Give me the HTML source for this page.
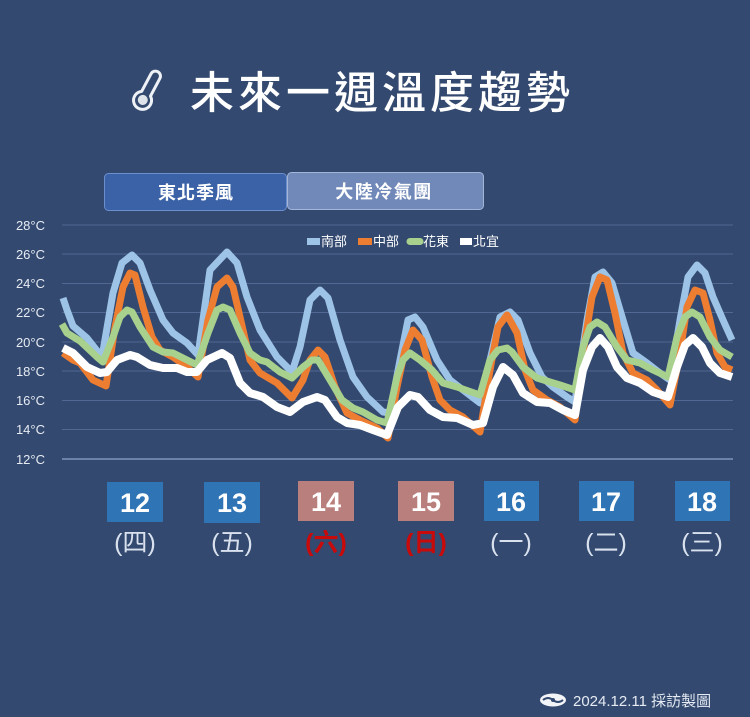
<!DOCTYPE html>
<html><head><meta charset="utf-8">
<style>
html,body{margin:0;padding:0;background:#33496f;}
svg{display:block;}
</style></head>
<body>
<svg width="750" height="717" viewBox="0 0 750 717" xmlns="http://www.w3.org/2000/svg">
<rect width="750" height="717" fill="#33496f"/>
<!-- thermometer icon -->
<g transform="rotate(28 147 92)">
<path d="M142 74 a5 5 0 0 1 10 0 v20 a9 9 0 1 1 -10 0 z" fill="none" stroke="#eef1f6" stroke-width="3" stroke-linejoin="round"/>
<circle cx="147" cy="101" r="5" fill="#dfe3ea"/>
</g>
<text x="190" y="108" font-family="'Liberation Sans','Noto Sans CJK TC',sans-serif" font-size="44" font-weight="500" fill="#ffffff" letter-spacing="4">未來一週溫度趨勢</text>
<!-- buttons -->
<rect x="104.5" y="173.5" width="182" height="37" rx="4" fill="#3b62a6" stroke="#6a8fcc" stroke-width="1"/>
<rect x="287.5" y="172.5" width="196" height="37" rx="4" fill="#7089b9" stroke="#a3b6d8" stroke-width="1"/>
<text x="196" y="199" text-anchor="middle" font-family="'Liberation Sans','Noto Sans CJK TC',sans-serif" font-size="18" font-weight="700" fill="#ffffff" letter-spacing="1">東北季風</text>
<text x="384" y="198" text-anchor="middle" font-family="'Liberation Sans','Noto Sans CJK TC',sans-serif" font-size="18" font-weight="700" fill="#ffffff" letter-spacing="1.5">大陸冷氣團</text>
<!-- gridlines -->
<g stroke="#516892" stroke-width="1">
<line x1="62" y1="225" x2="733" y2="225"/>
<line x1="62" y1="254" x2="733" y2="254"/>
<line x1="62" y1="283.5" x2="733" y2="283.5"/>
<line x1="62" y1="312.5" x2="733" y2="312.5"/>
<line x1="62" y1="342" x2="733" y2="342"/>
<line x1="62" y1="371" x2="733" y2="371"/>
<line x1="62" y1="400.5" x2="733" y2="400.5"/>
<line x1="62" y1="429.5" x2="733" y2="429.5"/>
</g>
<line x1="62" y1="459" x2="733" y2="459" stroke="#8095b8" stroke-width="1.5"/>
<!-- y labels -->
<g font-family="'Liberation Sans','Noto Sans CJK TC',sans-serif" font-size="13" fill="#e6ebf3" text-anchor="end">
<text x="45" y="230">28°C</text>
<text x="45" y="259">26°C</text>
<text x="45" y="288">24°C</text>
<text x="45" y="317">22°C</text>
<text x="45" y="347">20°C</text>
<text x="45" y="376">18°C</text>
<text x="45" y="405">16°C</text>
<text x="45" y="434">14°C</text>
<text x="45" y="464">12°C</text>
</g>
<!-- legend -->
<g font-family="'Liberation Sans','Noto Sans CJK TC',sans-serif" font-size="13" fill="#ffffff">
<rect x="307" y="238" width="13" height="7" fill="#9dc3e6"/><text x="321" y="246">南部</text>
<rect x="358" y="238" width="14" height="7" fill="#ed7d31"/><text x="373" y="246">中部</text>
<line x1="410" y1="241.5" x2="420" y2="241.5" stroke="#a9d18e" stroke-width="7" stroke-linecap="round"/><text x="423" y="246">花東</text>
<rect x="460" y="238" width="12" height="7" fill="#ffffff"/><text x="473" y="246">北宜</text>
</g>
<!-- series -->
<g fill="none" stroke-linejoin="round" stroke-linecap="butt" stroke-width="7">
<polyline stroke="#9dc3e6" points="63,298 67,310 73,326 87,338 102,357 113,293 122,263 132,255 140,263 150,290 163,320 173,333 187,343 198,355 210,270 227,252 237,263 247,297 260,330 277,357 292,372 300,347 310,300 320,290 328,298 340,340 353,377 367,397 383,412 390,413 400,360 408,320 415,317 423,327 437,360 450,380 463,390 480,403 490,360 500,317 510,312 518,320 530,353 542,377 553,387 567,397 575,402 587,320 595,277 603,272 612,283 623,320 633,353 647,363 660,373 670,380 680,320 688,277 697,265 705,273 713,297 723,320 732,340"/>
<polyline stroke="#ed7d31" points="63,353 73,360 80,363 93,380 106,386 115,327 123,287 130,273 135,275 143,307 152,337 160,350 173,357 187,367 198,377 208,320 217,287 227,278 233,287 240,317 250,360 260,373 277,383 292,398 303,380 310,360 318,350 325,357 335,387 347,413 360,420 377,428 388,438 397,387 405,350 413,330 422,340 432,377 440,400 450,410 463,417 480,432 490,370 498,327 507,315 517,333 525,370 533,390 547,400 560,407 575,420 583,353 592,297 600,277 607,280 615,313 623,353 633,373 647,380 657,390 670,405 680,353 687,307 695,290 703,293 710,320 717,353 725,367 732,370"/>
<polyline stroke="#a9d18e" points="62,324 67,333 80,341 97,357 103,362 113,337 120,317 127,310 132,312 140,327 153,347 163,352 173,353 187,360 197,365 208,333 217,310 223,307 230,310 240,333 250,353 260,360 267,362 280,372 292,378 303,367 312,360 318,360 330,380 342,400 353,408 363,412 377,420 387,423 397,377 403,360 410,353 420,360 432,370 443,383 457,387 480,395 490,360 498,350 507,348 512,352 523,367 537,378 550,382 560,385 575,390 583,347 590,327 597,322 605,327 617,347 627,360 640,363 653,370 668,377 677,337 685,317 692,312 700,317 710,337 720,350 732,357"/>
<polyline stroke="#ffffff" stroke-width="8" points="63,348 73,353 87,367 100,373 107,372 117,360 130,355 137,357 150,365 163,368 177,368 187,372 197,372 207,360 222,353 230,358 240,383 250,393 263,397 277,407 290,412 303,402 317,397 325,400 337,417 347,423 360,425 373,430 387,435 398,407 410,395 418,397 430,410 443,417 457,418 473,425 483,423 493,387 503,367 513,375 523,393 537,402 550,403 563,410 575,415 583,370 592,347 600,338 608,347 617,367 627,378 640,383 653,392 668,397 677,367 685,345 693,338 702,347 710,363 720,373 732,377"/>
</g>
<!-- day boxes -->
<g>
<rect x="107" y="482" width="56" height="40" fill="#2f74b5"/>
<rect x="204" y="482" width="56" height="41" fill="#2f74b5"/>
<rect x="298" y="481" width="56" height="40" fill="#b97f7d"/>
<rect x="398" y="481" width="56" height="40" fill="#b97f7d"/>
<rect x="484" y="481" width="55" height="40" fill="#2f74b5"/>
<rect x="579" y="481" width="55" height="40" fill="#2f74b5"/>
<rect x="675" y="481" width="55" height="40" fill="#2f74b5"/>
</g>
<g font-family="'Liberation Sans','Noto Sans CJK TC',sans-serif" font-size="27" font-weight="700" fill="#ffffff" text-anchor="middle">
<text x="135" y="512">12</text>
<text x="232" y="512">13</text>
<text x="326" y="511">14</text>
<text x="426" y="511">15</text>
<text x="511" y="511">16</text>
<text x="606" y="511">17</text>
<text x="702" y="511">18</text>
</g>
<g font-family="'Liberation Sans','Noto Sans CJK TC',sans-serif" font-size="25" fill="#d9e1ee" text-anchor="middle">
<text x="135" y="551">(四)</text>
<text x="232" y="551">(五)</text>
<text x="326" y="551" fill="#c80a0a" font-weight="700">(六)</text>
<text x="426" y="551" fill="#c80a0a" font-weight="700">(日)</text>
<text x="511" y="551">(一)</text>
<text x="606" y="551">(二)</text>
<text x="702" y="551">(三)</text>
</g>
<!-- footer -->
<ellipse cx="553" cy="700" rx="13" ry="6.5" fill="#f2f4f8"/>
<path d="M543 700 q5 -4 10 0 t10 0" fill="none" stroke="#33496f" stroke-width="2"/>
<circle cx="553" cy="700" r="2" fill="#33496f"/>
<text x="573" y="706" font-family="'Liberation Sans','Noto Sans CJK TC',sans-serif" font-size="15" fill="#e6ebf3">2024.12.11 採訪製圖</text>
</svg>
</body></html>
